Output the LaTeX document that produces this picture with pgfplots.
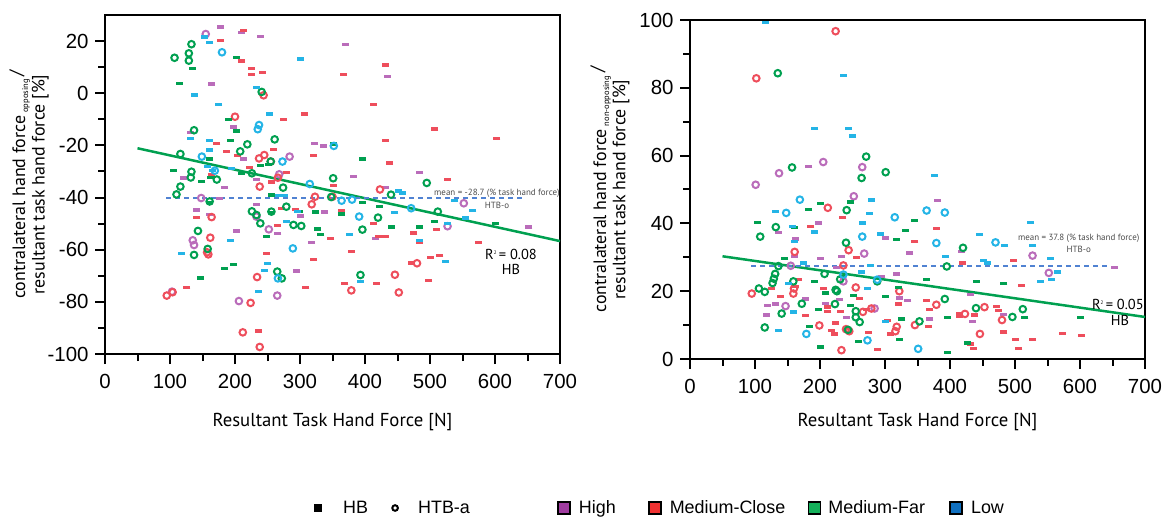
\documentclass[border=0pt]{standalone}
\usepackage{fontspec}
\setmainfont{Liberation Sans}
\newfontfamily\lab{PT Sans}
\usepackage{pgfplots}
\pgfplotsset{compat=1.18}
\definecolor{cP}{RGB}{186,108,186}
\definecolor{cR}{RGB}{238,78,92}
\definecolor{cG}{RGB}{0,160,80}
\definecolor{cB}{RGB}{36,180,230}
\definecolor{cM}{RGB}{80,130,210}
\definecolor{lP}{RGB}{160,60,160}
\definecolor{lR}{RGB}{240,50,50}
\definecolor{lG}{RGB}{20,176,90}
\definecolor{lB}{RGB}{16,112,192}
\pgfplotsset{
  hb/.style={only marks, mark=-, mark size=3.5bp, mark options={line width=3.3bp}, forget plot},
  ht/.style={only marks, mark=o, mark size=3.3bp, mark options={line width=2bp}, forget plot},
  trend/.style={no marks, color=cG, line width=2.5bp, forget plot},
  meanl/.style={no marks, color=cM, line width=2bp, dash pattern=on 5bp off 4bp, forget plot},
  base/.style={
    scale only axis, width=455bp, height=339bp,
    xmin=0, xmax=700, xtick={0,100,...,700}, minor x tick num=1, minor y tick num=1,
    tick align=outside, tick pos=left,
    major tick length=10bp, minor tick length=7bp,
    tick style={black, line width=2bp},
    axis line style={line width=2.5bp},
    tick label style={font=\fontsize{20.5}{20.5}\selectfont},
    xticklabel style={yshift=-7bp},
    yticklabel style={xshift=-3bp},
    /pgf/number format/assume math mode=true,
    xlabel={Resultant Task Hand Force [N]},
    xlabel style={font=\lab\fontsize{18.8}{20}\selectfont, anchor=center},
    ylabel style={align=center, font=\lab\fontsize{18}{19.5}\selectfont, anchor=center},
    clip=false,
  }
}
\begin{document}
\begin{tikzpicture}
\useasboundingbox (0,0) rectangle (1170bp,518bp);
\begin{axis}[base, at={(105bp,164bp)}, anchor=south west,
  ymin=-100, ymax=30, ytick={-100,-80,...,20},
  xlabel style={at={(axis description cs:0.5,-0.2)}},
  ylabel={contralateral hand force\,\raisebox{-3bp}{\fontsize{8.5}{8.5}\selectfont opposing}\,\raisebox{3bp}{/}\\resultant task hand force [\%]},
  ylabel style={at={(axis description cs:-0.167,0.5)}},
  legend columns=6,
  legend style={at={(axis description cs:0.4593,-0.4543)}, anchor=west, draw=none, fill=none,
    inner sep=0pt, outer sep=0pt, column sep=0pt, nodes={inner sep=0pt},
    font=\fontsize{18}{20}\selectfont},
  legend cell align=left,
]
\addplot[hb, cP] coordinates {(178,25.4)(210,23.4)(239,21.7)(164,3.5)(132,-15.1)(198,-13)(323,-19.3)(336,-20.2)(213,-25.2)(120,-32.5)(184,-36.2)(233,-33)(233,-42.6)(140,-44.8)(161,-46.4)(300,-47.1)(338,-45.5)(202,-52.8)(266,-53.7)(318,-57.2)(294,-68.2)(176,-40.3)(370,18.8)(434,6.5)(484,-30.3)(382,-31.9)(431,-36.2)(416,-55.6)(652,-51.3)};
\addplot[ht, cP] coordinates {(155,22.7)(284,-24.3)(268,-31.1)(148,-40.2)(233,-47.3)(252,-52.2)(135,-56.4)(137,-58.2)(206,-79.7)(265,-77.6)(103,-76.1)(552,-42.2)(527,-51)};
\addplot[hb, cR] coordinates {(213,24)(178,20.3)(210,12.4)(225,9.5)(225,7.2)(242,8)(307,-8)(274,-10.1)(172,-19.3)(187,-22.3)(204,-23.8)(259,-21.6)(321,-23.8)(164,-31.2)(222,-28.4)(256,-34)(279,-30.3)(293,-44.5)(271,-44.1)(141,-47.7)(265,-50.8)(347,-55.6)(248,-61.5)(321,-63.7)(126,-74.4)(309,-74.4)(236,-91.2)(351,-35.4)(431,10.8)(367,7.2)(413,-4.4)(507,-13.7)(603,-17.4)(431,-18.1)(438,-26.8)(527,-33.1)(364,-44.9)(413,-49.9)(431,-54.9)(420,-54.9)(475,-53.6)(510,-52.2)(484,-57.2)(574,-57.2)(379,-60.8)(501,-62.9)(515,-62.2)(471,-65.1)(369,-73)(417,-73)(498,-71.7)};
\addplot[ht, cR] coordinates {(244,-0.8)(200,-9)(245,-23.7)(237,-25)(255,-26.2)(266,-32.4)(238,-35.8)(323,-39.7)(318,-42.6)(164,-47.5)(162,-55.4)(159,-61.8)(157,-61)(234,-70.5)(224,-80.4)(212,-91.7)(238,-97.3)(95,-77.6)(104,-76.3)(350,-39.7)(423,-36.9)(480,-65.2)(446,-69.6)(379,-75.6)(452,-76.4)};
\addplot[hb, cG] coordinates {(202,13.8)(134,9.5)(114,3.7)(190,-10)(202,-14.5)(193,-18.1)(161,-25.2)(105,-29.6)(210,-30.8)(149,-33.9)(163,-32.4)(239,-27.8)(251,-27.3)(256,-39)(271,-39.2)(161,-41.8)(256,-45.8)(299,-45.4)(324,-45.5)(327,-52.1)(332,-54.1)(248,-55)(198,-65.7)(184,-67.3)(147,-70.9)(352,-19.5)(396,-25.2)(396,-42)(422,-43.4)(364,-46.3)(440,-51.3)(484,-51.3)(507,-49.3)(600,-50)};
\addplot[ht, cG] coordinates {(107,13.6)(129,15.3)(129,12.5)(133,18.8)(241,0.5)(137,-14.2)(116,-23.3)(208,-22.3)(219,-19.6)(261,-17.7)(133,-30.1)(132,-32.3)(116,-35.8)(110,-38.8)(172,-33.1)(161,-41.5)(226,-30.7)(255,-26.2)(274,-36.2)(279,-43.5)(226,-45.3)(233,-46.7)(239,-49.9)(256,-45.4)(290,-50.5)(302,-50.9)(351,-32.6)(348,-39.8)(143,-52.8)(158,-59.7)(137,-62)(265,-68.4)(272,-71)(495,-34.4)(440,-38.9)(420,-47.7)(396,-52.3)(512,-45.4)(393,-69.7)};
\addplot[hb, cB] coordinates {(153,21.6)(161,19.5)(301,13.1)(233,2.3)(137,-0.7)(175,-4.3)(253,-8)(132,-17.4)(161,-18.1)(161,-21.8)(158,-28)(166,-29.7)(195,-28.9)(267,-39.2)(276,-39.2)(296,-45.4)(279,-49.3)(193,-56.4)(117,-61.5)(250,-65.2)(245,-68)(236,-76)(452,-37.5)(458,-38.3)(446,-45.7)(538,-41.1)(566,-44.9)(554,-47.8)(376,-54.2)(484,-56.4)(524,-64.5)(393,-72.3)(527,-50)};
\addplot[ht, cB] coordinates {(180,15.7)(237,-12.2)(235,-13.8)(149,-24.3)(273,-26.2)(169,-29.7)(315,-34.8)(289,-59.5)(266,-71)(352,-20.2)(364,-41.2)(380,-40.8)(391,-47.3)(471,-44.1)};
\addplot[trend] coordinates {(50,-21.1)(700,-56.7)};
\addplot[meanl] coordinates {(94,-40.3)(646,-40.3)};
\node[font=\lab\fontsize{9}{10}\selectfont, text=black!70] at (axis cs:603,-38.3) {mean = -28.7 (\% task hand force)};
\node[font=\lab\fontsize{9}{10}\selectfont, text=black!70] at (axis cs:603,-42.9) {HTB-o};
\node[font=\lab\fontsize{14.5}{15}\selectfont] at (axis cs:624.6,-61.7) {R\raisebox{5bp}{\fontsize{5}{5}\selectfont 2}\,= 0.08};
\node[font=\lab\fontsize{14.5}{15}\selectfont] at (axis cs:624.6,-67.4) {HB};
\addlegendimage{legend image code/.code={\fill[black] (0bp,-3.5bp) rectangle (7bp,3.5bp); \path[draw=none,fill=none] (0,0) -- (29bp,0);}}
\addlegendentry{HB}
\addlegendimage{legend image code/.code={\path[draw=none,fill=none] (0,0) -- (50bp,0); \draw[black, line width=2bp, fill=none] (27bp,0) circle (2.8bp);}}
\addlegendentry{HTB-a}
\addlegendimage{legend image code/.code={\path[draw=none,fill=none] (0,0) -- (109bp,0); \draw[fill=lP, draw=black, line width=1.5bp] (88bp,-6bp) rectangle (100bp,6bp);}}
\addlegendentry{High}
\addlegendimage{legend image code/.code={\path[draw=none,fill=none] (0,0) -- (54bp,0); \draw[fill=lR, draw=black, line width=1.5bp] (33bp,-6bp) rectangle (45bp,6bp);}}
\addlegendentry{Medium-Close}
\addlegendimage{legend image code/.code={\path[draw=none,fill=none] (0,0) -- (43bp,0); \draw[fill=lG, draw=black, line width=1.5bp] (23bp,-6bp) rectangle (35bp,6bp);}}
\addlegendentry{Medium-Far}
\addlegendimage{legend image code/.code={\path[draw=none,fill=none] (0,0) -- (46bp,0); \draw[fill=lB, draw=black, line width=1.5bp] (25bp,-6bp) rectangle (37bp,6bp);}}
\addlegendentry{Low}
\end{axis}
\begin{axis}[base, at={(690bp,159bp)}, anchor=south west,
  ymin=0, ymax=100, ytick={0,20,...,100},
  xlabel style={at={(axis description cs:0.5,-0.185)}},
  ylabel={contralateral hand force\,\raisebox{-3bp}{\fontsize{8.5}{8.5}\selectfont non-opposing}\,\raisebox{3bp}{/}\\resultant task hand force [\%]},
  ylabel style={at={(axis description cs:-0.176,0.5)}},
]
\addplot[hb, cP] coordinates {(183,56.8)(197,40.1)(136,37.4)(162,35.4)(160,30.3)(200,29.6)(233,30.2)(300,35.7)(338,31.3)(318,25.1)(295,24.4)(225,26.9)(177,17.7)(119,15.8)(132,16.2)(118,13)(209,16.4)(230,17.5)(240,12.3)(335,17.3)(323,18)(381,46.8)(417,31.8)(653,26.9)(431,19)(369,11.8)(434,11.1)(483,13.1)};
\addplot[ht, cP] coordinates {(101,51.4)(137,54.8)(205,58.1)(265,56.6)(252,48)(268,31.1)(155,27.5)(236,22.9)(147,15.6)(284,14.9)(527,30.5)(552,25.4)};
\addplot[hb, cR] coordinates {(235,41.8)(186,39)(346,34.7)(256,30)(167,23.4)(139,18.4)(205,20.8)(162,21.3)(177,12.9)(212,15.3)(212,14.1)(231,14.1)(260,17.8)(272,14.7)(321,16.2)(224,10.6)(218,8.5)(222,7.4)(274,7.9)(304,11.3)(308,7.4)(289,2.9)(125,20.8)(379,38.5)(419,28.3)(498,29.1)(510,21.7)(364,17.3)(369,14.5)(367,9.6)(414,13.5)(414,12.5)(438,13)(471,15.4)(474,14.4)(515,12.3)(483,8)(501,5.7)(527,5.7)(506,3)(573,7.5)(602,6.9)(432,4.4)(436,3)};
\addplot[ht, cR] coordinates {(224,96.7)(102,82.8)(212,44.6)(161,31.6)(244,32.1)(236,27.6)(95,19.3)(160,20.8)(159,19.3)(255,21.1)(322,20)(266,13.9)(279,14.9)(199,9.9)(240,8.8)(245,8.2)(318,9.5)(316,8.2)(346,10)(233,2.6)(379,16)(453,15.3)(423,13.3)(480,11.5)(446,7.4)};
\addplot[hb, cG] coordinates {(201,45.8)(247,46.3)(183,44)(104,40.2)(160,38.7)(331,38)(345,40.8)(317,35.2)(146,29.6)(191,22.9)(235,24.4)(300,18.5)(209,19.5)(198,14.6)(247,15.8)(252,18.7)(320,21.1)(184,9.6)(259,5.2)(200,3.5)(322,5.7)(326,11.8)(364,23.5)(440,22.8)(483,22.3)(396,12.3)(515,12.3)(600,12.3)(427,4.7)(396,1.9)};
\addplot[ht, cG] coordinates {(135,84.3)(157,56.5)(271,59.7)(264,53.4)(301,55.1)(241,43.9)(132,38.9)(108,36.1)(240,34.3)(136,27.4)(131,25.1)(129,23.7)(127,22.4)(159,22.9)(207,25.1)(231,23.5)(224,20.4)(226,20)(288,22.9)(106,20.8)(115,19.8)(172,16.3)(223,16.2)(141,13.4)(255,14.1)(255,12.3)(261,10.9)(243,8.6)(115,9.3)(420,32.8)(395,27.3)(392,17.7)(440,15)(512,14.7)(496,12.4)(353,11.1)};
\addplot[hb, cB] coordinates {(116,99.2)(236,83.7)(192,68)(244,68)(250,65.8)(279,46.9)(131,43.6)(276,43)(191,37.5)(265,40.1)(293,36.9)(158,39.1)(160,34.7)(174,28.3)(277,27.5)(264,25.7)(151,22.3)(159,13.9)(273,20.8)(300,11)(136,8.5)(376,54.1)(524,40.2)(445,36.8)(484,33.4)(527,33.4)(393,30.2)(451,29)(457,28.3)(554,29.6)(566,25.7)(556,23.5)(539,22.8)};
\addplot[ht, cB] coordinates {(169,47)(148,43.1)(315,41.8)(265,36.1)(288,23.4)(236,24.9)(179,7.4)(273,5.5)(351,3)(364,43.8)(392,43.2)(379,34.2)(470,34.4)};
\addplot[trend] coordinates {(50,30.3)(700,12.4)};
\addplot[meanl] coordinates {(94,27.5)(646,27.5)};
\node[font=\lab\fontsize{9}{10}\selectfont, text=black!70] at (axis cs:598,35.7) {mean = 37.8 (\% task hand force)};
\node[font=\lab\fontsize{9}{10}\selectfont, text=black!70] at (axis cs:598,32.4) {HTB-o};
\node[font=\lab\fontsize{14.5}{15}\selectfont] at (axis cs:658.3,16.2) {R\raisebox{5bp}{\fontsize{5}{5}\selectfont 2}\,= 0.05};
\node[font=\lab\fontsize{14.5}{15}\selectfont] at (axis cs:661.4,11.5) {HB};
\end{axis}
\end{tikzpicture}
\end{document}
